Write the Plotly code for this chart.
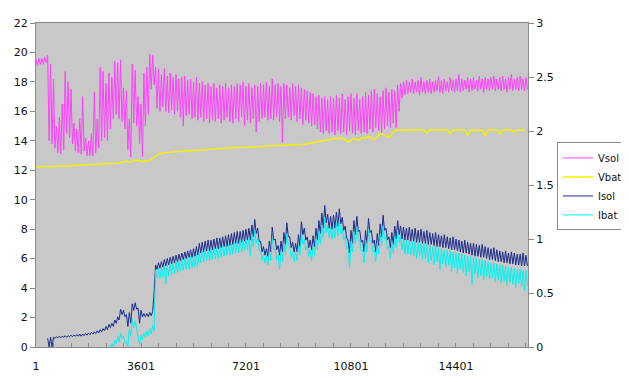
import plotly.graph_objects as go

# Records are sampled every STEP indices; each band series is stored as the
# upper (hi) and lower (lo) edge of the noisy trace read at each sample.
# None = nothing visible (trace lies under the axis).
STEP = 100
N = None

vsol_hi = [
    19.5, 19.6, 19.6, 19.7, 19.8, 19.2, 18.2, 15.0, 15.6, 16.5,
    18.7, 18.0, 17.5, 15.2, 14.8, 15.5, 17.0, 14.2, 14.0, 14.5,
    17.3, 15.5, 19.0, 18.7, 17.9, 18.6, 18.3, 19.4, 19.3, 19.5,
    17.6, 17.4, 15.5, 19.2, 18.8, 17.0, 16.5, 18.6, 19.0, 19.9,
    19.8, 19.0, 18.9, 18.5, 18.9, 18.4, 18.6, 18.3, 18.5, 18.2,
    18.3, 18.4, 18.1, 18.2, 18.0, 18.3, 17.9, 18.0, 17.8, 17.9,
    17.7, 17.9, 17.6, 17.8, 17.7, 17.9, 17.6, 17.8, 17.7, 17.9,
    17.8, 18.0, 17.7, 17.9, 17.6, 17.8, 17.7, 17.9, 17.8, 18.0,
    17.7, 18.2, 17.8, 17.9, 17.7, 17.9, 17.8, 17.6, 17.9, 17.7,
    17.8, 17.6, 17.5, 17.4, 17.3, 17.2, 17.0, 17.1, 16.9, 17.0,
    16.8, 17.0, 16.9, 17.1, 16.9, 17.2, 16.8, 17.0, 17.2, 16.9,
    17.2, 16.8, 17.0, 17.3, 17.1, 17.4, 17.5, 17.2, 17.0, 17.4,
    17.6, 17.3, 17.5, 17.4, 17.8, 17.9, 18.0, 18.1, 18.0, 18.2,
    18.0, 18.1, 18.3, 18.0, 18.1, 18.2, 18.0, 18.1, 18.4, 18.1,
    18.2, 18.0, 18.3, 18.1, 18.2, 18.5, 18.2, 18.1, 18.3, 18.2,
    18.3, 18.1, 18.4, 18.2, 18.3, 18.2, 18.3, 18.4, 18.2, 18.3,
    18.4, 18.2, 18.3, 18.5, 18.2, 18.3, 18.4, 18.2, 18.3,
]
vsol_lo = [
    19.1, 19.2, 19.2, 19.3, 14.0, 13.8, 13.5, 13.2, 13.1, 13.4,
    14.5, 14.2, 13.8, 13.3, 13.2, 13.1, 13.3, 13.0, 13.0, 13.0,
    13.2, 13.5, 14.0, 14.2, 14.0, 14.8, 15.5, 15.8, 15.5, 15.3,
    14.8, 13.4, 12.9, 15.2, 15.0, 13.8, 12.9, 15.0, 15.8, 17.5,
    17.8, 16.2, 16.0, 16.3, 16.0, 15.9, 16.1, 15.8, 16.0, 15.6,
    15.0, 15.7, 15.8, 15.5, 15.6, 15.4, 15.6, 15.3, 15.5, 15.2,
    15.4, 15.3, 15.5, 15.2, 15.4, 15.6, 15.3, 15.2, 15.5, 15.3,
    15.6, 15.0, 15.4, 15.2, 15.5, 14.6, 15.3, 15.5, 15.6, 15.4,
    15.5, 15.4, 15.6, 15.3, 13.9, 15.5, 15.6, 15.4, 15.7, 15.3,
    15.5, 15.1, 15.4, 15.2, 15.0, 15.1, 14.8, 14.6, 14.5, 14.7,
    14.5, 14.6, 14.4, 14.7, 14.5, 14.6, 14.4, 14.7, 14.5, 14.4,
    14.7, 14.5, 14.6, 14.5, 14.8, 14.6, 14.9, 14.7, 14.5, 14.8,
    15.0, 14.9, 15.2, 14.9, 16.0, 16.9, 17.1, 17.2, 17.3, 17.2,
    17.3, 17.1, 17.3, 17.2, 17.3, 17.2, 17.3, 17.4, 17.3, 17.2,
    17.4, 17.3, 17.4, 17.3, 17.4, 17.3, 17.4, 17.5, 17.3, 17.4,
    17.5, 17.4, 17.5, 17.3, 17.5, 17.4, 17.5, 17.4, 17.5, 17.4,
    17.5, 17.3, 17.5, 17.4, 17.5, 17.4, 17.5, 17.4, 17.5,
]

vbat = [
    12.24, 12.25, 12.25, 12.26, 12.26, 12.27, 12.27, 12.28, 12.28, 12.29,
    12.29, 12.30, 12.30, 12.31, 12.31, 12.32, 12.32, 12.33, 12.33, 12.34,
    12.35, 12.36, 12.37, 12.38, 12.39, 12.40, 12.42, 12.45, 12.48, 12.52,
    12.58, 12.62, 12.52, 12.60, 12.70, 12.66, 12.60, 12.62, 12.63, 12.64,
    12.80, 12.95, 13.10, 13.15, 13.18, 13.20, 13.22, 13.24, 13.25, 13.26,
    13.27, 13.28, 13.30, 13.31, 13.33, 13.34, 13.36, 13.38, 13.40, 13.42,
    13.45, 13.46, 13.47, 13.48, 13.49, 13.50, 13.51, 13.52, 13.53, 13.54,
    13.55, 13.56, 13.57, 13.57, 13.58, 13.59, 13.60, 13.60, 13.61, 13.62,
    13.63, 13.64, 13.65, 13.66, 13.66, 13.67, 13.68, 13.69, 13.69, 13.70,
    13.71, 13.73, 13.76, 13.80, 13.84, 13.88, 13.92, 13.96, 14.00, 14.05,
    14.10, 14.12, 14.14, 14.16, 14.18, 14.20, 14.10, 13.92, 14.05, 14.18,
    14.05, 14.10, 14.22, 14.18, 14.32, 14.20, 14.08, 14.25, 14.50, 14.45,
    14.35, 14.22, 14.45, 14.65, 14.75, 14.72, 14.72, 14.74, 14.70, 14.73,
    14.72, 14.75, 14.71, 14.74, 14.55, 14.73, 14.72, 14.74, 14.71, 14.73,
    14.75, 14.72, 14.50, 14.74, 14.71, 14.73, 14.72, 14.74, 14.40, 14.73,
    14.71, 14.74, 14.72, 14.73, 14.35, 14.74, 14.72, 14.70, 14.73, 14.45,
    14.72, 14.74, 14.71, 14.73, 14.60, 14.74, 14.72, 14.73, 14.71,
]

isol_hi = [
    N, N, N, N, 0.08, 0.09, 0.09, 0.095, 0.10, 0.10,
    0.105, 0.105, 0.11, 0.11, 0.115, 0.12, 0.12, 0.125, 0.13, 0.135,
    0.14, 0.15, 0.16, 0.17, 0.19, 0.21, 0.22, 0.25, 0.28, 0.35,
    0.34, 0.30, 0.32, 0.40, 0.41, 0.36, 0.34, 0.31, 0.31, 0.32,
    0.33, 0.76, 0.78, 0.79, 0.81, 0.82, 0.83, 0.84, 0.85, 0.86,
    0.87, 0.88, 0.89, 0.90, 0.91, 0.93, 0.96, 0.97, 0.98, 0.99,
    0.99, 1.00, 1.01, 1.01, 1.02, 1.03, 1.04, 1.05, 1.06, 1.07,
    1.07, 1.08, 1.09, 1.10, 1.13, 1.18, 1.10, 0.98, 0.93, 0.91,
    0.98, 1.11, 1.00, 0.94, 0.98, 1.06, 1.15, 1.02, 0.97, 0.96,
    1.04, 1.16, 1.10, 1.02, 0.99, 1.03, 1.10, 1.17, 1.24, 1.31,
    1.23, 1.21, 1.22, 1.25, 1.28, 1.20, 1.12, 0.99, 1.08, 1.17,
    1.21, 1.08, 0.99, 1.08, 1.19, 1.08, 0.99, 1.05, 1.14, 1.22,
    1.10, 1.02, 1.06, 1.12, 1.17, 1.12, 1.11, 1.10, 1.11, 1.09,
    1.10, 1.08, 1.09, 1.07, 1.08, 1.06, 1.05, 1.06, 1.04, 1.03,
    1.04, 1.02, 1.01, 1.02, 1.00, 0.99, 0.98, 0.99, 0.97, 0.96,
    0.96, 0.95, 0.94, 0.95, 0.93, 0.92, 0.91, 0.92, 0.90, 0.89,
    0.88, 0.89, 0.87, 0.88, 0.87, 0.86, 0.86, 0.87, 0.85,
]
isol_lo = [
    N, N, N, N, 0.0, 0.0, 0.08, 0.085, 0.085, 0.09,
    0.09, 0.095, 0.095, 0.10, 0.10, 0.10, 0.105, 0.11, 0.115, 0.12,
    0.125, 0.13, 0.14, 0.15, 0.16, 0.18, 0.19, 0.22, 0.25, 0.30,
    0.28, 0.19, 0.22, 0.34, 0.35, 0.22, 0.28, 0.28, 0.28, 0.29,
    0.50, 0.72, 0.73, 0.74, 0.75, 0.76, 0.77, 0.78, 0.79, 0.80,
    0.81, 0.82, 0.83, 0.83, 0.84, 0.85, 0.87, 0.88, 0.89, 0.89,
    0.90, 0.91, 0.91, 0.92, 0.93, 0.93, 0.94, 0.95, 0.96, 0.96,
    0.97, 0.98, 0.99, 0.99, 1.02, 1.05, 0.98, 0.88, 0.85, 0.84,
    0.88, 0.99, 0.90, 0.85, 0.88, 0.95, 1.02, 0.92, 0.88, 0.88,
    0.93, 1.04, 0.99, 0.92, 0.90, 0.93, 0.99, 1.05, 1.10, 1.15,
    1.10, 1.09, 1.10, 1.12, 1.14, 1.08, 1.01, 0.87, 0.96, 1.04,
    1.07, 0.97, 0.88, 0.96, 1.06, 0.96, 0.88, 0.94, 1.02, 1.08,
    0.99, 0.92, 0.95, 1.00, 1.04, 1.00, 0.99, 0.99, 0.98, 0.98,
    0.97, 0.97, 0.96, 0.96, 0.95, 0.95, 0.94, 0.93, 0.93, 0.92,
    0.92, 0.91, 0.90, 0.90, 0.89, 0.88, 0.87, 0.87, 0.86, 0.85,
    0.84, 0.84, 0.83, 0.83, 0.82, 0.81, 0.81, 0.80, 0.79, 0.79,
    0.78, 0.78, 0.77, 0.77, 0.76, 0.76, 0.75, 0.75, 0.75,
]

ibat_hi = [
    N, N, N, N, N, N, N, N, N, N,
    N, N, N, N, N, N, N, N, N, N,
    N, N, N, N, N, 0, 0.03, 0.06, 0.10, 0.13,
    0.10, 0.05, 0.17, 0.26, 0.24, 0.10, 0.11, 0.13, 0.15, 0.17,
    0.20, 0.71, 0.73, 0.74, 0.75, 0.76, 0.77, 0.78, 0.79, 0.80,
    0.81, 0.82, 0.83, 0.84, 0.85, 0.86, 0.88, 0.89, 0.90, 0.90,
    0.91, 0.92, 0.92, 0.93, 0.94, 0.95, 0.95, 0.96, 0.97, 0.98,
    0.99, 0.99, 1.00, 1.01, 1.04, 1.08, 1.01, 0.89, 0.86, 0.84,
    0.89, 1.01, 0.91, 0.85, 0.89, 0.96, 1.05, 0.93, 0.88, 0.88,
    0.94, 1.06, 1.00, 0.93, 0.90, 0.94, 1.00, 1.07, 1.13, 1.20,
    1.13, 1.11, 1.12, 1.15, 1.18, 1.10, 1.03, 0.90, 0.98, 1.07,
    1.11, 0.99, 0.90, 0.99, 1.09, 0.99, 0.90, 0.96, 1.04, 1.12,
    1.01, 0.93, 0.97, 1.02, 1.08, 1.02, 1.00, 0.99, 0.99, 0.98,
    0.98, 0.97, 0.96, 0.96, 0.95, 0.94, 0.93, 0.93, 0.92, 0.91,
    0.90, 0.90, 0.89, 0.88, 0.87, 0.87, 0.86, 0.85, 0.84, 0.84,
    0.83, 0.82, 0.81, 0.81, 0.80, 0.79, 0.78, 0.78, 0.77, 0.76,
    0.76, 0.75, 0.74, 0.74, 0.73, 0.72, 0.72, 0.71, 0.71,
]
ibat_lo = [
    N, N, N, N, N, N, N, N, N, N,
    N, N, N, N, N, N, N, N, N, N,
    N, N, N, N, N, 0, 0.0, 0.03, 0.05, 0.08,
    0.04, 0.0, 0.10, 0.18, 0.15, 0.02, 0.07, 0.09, 0.10, 0.12,
    0.15, 0.64, 0.63, 0.65, 0.58, 0.66, 0.67, 0.68, 0.69, 0.70,
    0.71, 0.72, 0.72, 0.73, 0.74, 0.75, 0.78, 0.79, 0.80, 0.80,
    0.81, 0.82, 0.82, 0.83, 0.84, 0.85, 0.85, 0.86, 0.87, 0.87,
    0.88, 0.89, 0.90, 0.84, 0.93, 0.96, 0.90, 0.80, 0.78, 0.76,
    0.80, 0.90, 0.81, 0.72, 0.79, 0.86, 0.94, 0.83, 0.79, 0.80,
    0.85, 0.95, 0.90, 0.84, 0.80, 0.84, 0.90, 0.96, 1.01, 1.06,
    1.01, 1.00, 1.01, 1.03, 1.05, 0.99, 0.92, 0.73, 0.88, 0.96,
    0.99, 0.89, 0.78, 0.88, 0.98, 0.88, 0.79, 0.86, 0.94, 1.00,
    0.91, 0.82, 0.87, 0.92, 0.97, 0.90, 0.86, 0.86, 0.85, 0.84,
    0.82, 0.84, 0.81, 0.82, 0.78, 0.80, 0.76, 0.79, 0.72, 0.77,
    0.74, 0.76, 0.70, 0.73, 0.68, 0.72, 0.69, 0.66, 0.70, 0.58,
    0.68, 0.64, 0.66, 0.62, 0.65, 0.63, 0.64, 0.60, 0.62, 0.59,
    0.61, 0.57, 0.60, 0.58, 0.55, 0.59, 0.56, 0.52, 0.57,
]

x_labels = ["1", "3601", "7201", "10801", "14401"]
x_max = 16870


def band(hi, lo):
    """Trace through each sample's upper then lower edge (noisy record)."""
    xs, ys = [], []
    for i, (h, l) in enumerate(zip(hi, lo)):
        xs += [1 + STEP * i, 1 + STEP * i + STEP // 2]
        ys += [h, l]
    return xs, ys


FONT = "DejaVu Sans"
AXIS_COL = "#8a8a8a"

fig = go.Figure()
xs, ys = band(vsol_hi, vsol_lo)
fig.add_trace(go.Scatter(x=xs, y=ys, name="Vsol", mode="lines",
                         line=dict(color="#ff40ff", width=1)))
fig.add_trace(go.Scatter(x=[1 + STEP * i for i in range(len(vbat))], y=vbat,
                         name="Vbat", mode="lines",
                         line=dict(color="#f4f000", width=1.5)))
xs, ys = band(isol_hi, isol_lo)
fig.add_trace(go.Scatter(x=xs, y=ys, name="Isol", mode="lines", yaxis="y2",
                         line=dict(color="#1c2a8c", width=1)))
xs, ys = band(ibat_hi, ibat_lo)
fig.add_trace(go.Scatter(x=xs, y=ys, name="Ibat", mode="lines", yaxis="y2",
                         line=dict(color="#00f4f4", width=1)))

tick_vals = list(range(1, x_max, 600))
tick_text = [t if t in x_labels else "" for t in (str(v) for v in tick_vals)]

# the page body has an 8px margin, so the figure is 8px smaller than the window
fig.update_layout(
    width=621, height=374,
    margin=dict(l=28, r=101, t=15, b=35, autoexpand=False),
    paper_bgcolor="white",
    plot_bgcolor="#c8c8c8",
    font=dict(family=FONT, size=11, color="#111"),
    showlegend=True,
    legend=dict(xref="container", yref="container",
                x=0.884, xanchor="left", y=0.6405, yanchor="top",
                bgcolor="white", bordercolor=AXIS_COL, borderwidth=1,
                itemwidth=30, font=dict(family=FONT, size=10, color="#111"),
                tracegroupgap=0),
    xaxis=dict(range=[1, x_max], tickmode="array", tickvals=tick_vals, ticktext=tick_text,
               ticks="inside", ticklen=4, tickcolor=AXIS_COL,
               showline=True, linecolor=AXIS_COL, linewidth=1, mirror=True,
               showgrid=False, zeroline=False, ticklabelstandoff=9),
    yaxis=dict(range=[0, 22], dtick=2, ticks="outside", ticklen=5, tickcolor=AXIS_COL,
               showline=True, linecolor=AXIS_COL, linewidth=1,
               showgrid=False, zeroline=False),
    yaxis2=dict(range=[0, 3], dtick=0.5, overlaying="y", side="right",
                ticks="outside", ticklen=5, tickcolor=AXIS_COL,
                showline=True, linecolor=AXIS_COL, linewidth=1,
                showgrid=False, zeroline=False),
)

fig.write_html("out.html")
